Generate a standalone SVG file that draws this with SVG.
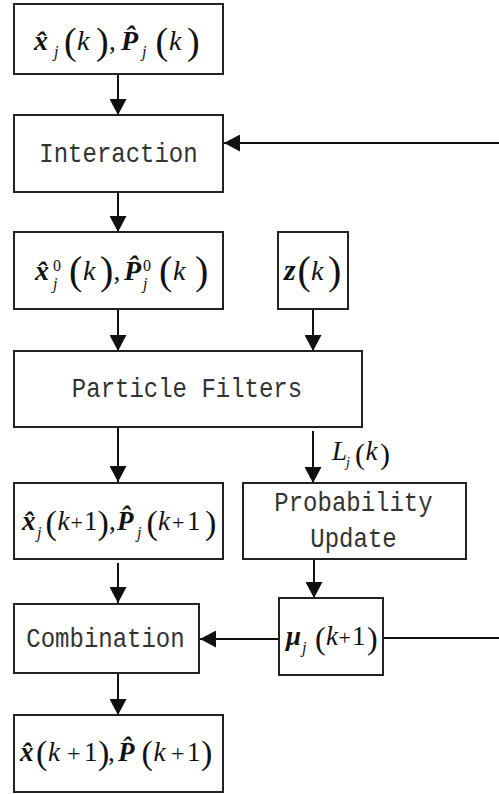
<svg xmlns="http://www.w3.org/2000/svg" width="499" height="794" viewBox="0 0 499 794">
<style>
.box{fill:#fff;stroke:#222;stroke-width:2}
.lbl{font-family:"Liberation Mono",monospace;font-size:24px;fill:#333;text-anchor:middle}
.m{font-family:"Liberation Serif",serif;font-size:27px;fill:#111}
.b{font-weight:bold;font-style:italic}
.i{font-style:italic}
.s{font-size:16px;font-style:italic}
.c{stroke:#111;stroke-width:2;fill:none}
</style>
<defs>
<marker id="ah" markerUnits="userSpaceOnUse" markerWidth="16" markerHeight="17" refX="16" refY="8.5" orient="auto">
<path d="M0,0 L16,8.5 L0,17 z" fill="#111"/>
</marker>
</defs>
<rect width="499" height="794" fill="#fff"/>

<g id="connectors">
<line class="c" x1="118" y1="74" x2="118" y2="115" marker-end="url(#ah)"/>
<line class="c" x1="499" y1="143" x2="224" y2="143" marker-end="url(#ah)"/>
<line class="c" x1="118" y1="192" x2="118" y2="232" marker-end="url(#ah)"/>
<line class="c" x1="118" y1="309" x2="118" y2="351" marker-end="url(#ah)"/>
<line class="c" x1="313" y1="309" x2="313" y2="351" marker-end="url(#ah)"/>
<line class="c" x1="118" y1="427" x2="118" y2="482" marker-end="url(#ah)"/>
<line class="c" x1="313" y1="431" x2="313" y2="483" marker-end="url(#ah)"/>
<line class="c" x1="118" y1="563" x2="118" y2="603" marker-end="url(#ah)"/>
<line class="c" x1="314" y1="559" x2="314" y2="598" marker-end="url(#ah)"/>
<line class="c" x1="279" y1="639" x2="200" y2="639" marker-end="url(#ah)"/>
<line class="c" x1="383" y1="638" x2="499" y2="638"/>
<line class="c" x1="118" y1="673" x2="118" y2="715" marker-end="url(#ah)"/>
<text class="m" font-size="23"><tspan class="i" x="332" y="460">L</tspan><tspan class="i" x="346" y="467" font-size="14">j</tspan><tspan x="355" y="464" font-size="30">(</tspan><tspan class="i" x="365.5" y="460">k</tspan><tspan x="380" y="464" font-size="30">)</tspan></text>
</g>

<g id="n1">
<rect class="box" x="14" y="4" width="209" height="70"/>
<text class="m"><tspan class="b" x="34" y="50" font-size="28">x̂</tspan><tspan class="s" x="54" y="57">j</tspan><tspan x="64" y="54" font-size="38">(</tspan><tspan class="i" x="77" y="50" font-size="28">k</tspan><tspan x="96" y="54" font-size="38">)</tspan><tspan x="109" y="50">,</tspan><tspan class="b" x="121" y="50" font-size="28">P̂</tspan><tspan class="s" x="142" y="57">j</tspan><tspan x="155.5" y="54" font-size="38">(</tspan><tspan class="i" x="169" y="50" font-size="28">k</tspan><tspan x="187" y="54" font-size="38">)</tspan></text>
</g>

<g id="n2">
<rect class="box" x="14" y="115" width="209" height="77"/>
<text class="lbl" transform="translate(118.5,162) scale(1,1.18)">Interaction</text>
</g>

<g id="n3">
<rect class="box" x="14" y="232" width="209" height="77"/>
<text class="m"><tspan class="b" x="35" y="280" font-size="28">x̂</tspan><tspan x="53" y="271" font-size="16">0</tspan><tspan class="s" x="53" y="289">j</tspan><tspan x="69" y="284" font-size="40">(</tspan><tspan class="i" x="83" y="280" font-size="28">k</tspan><tspan x="100" y="284" font-size="40">)</tspan><tspan x="113.5" y="280">,</tspan><tspan class="b" x="124" y="280" font-size="28">P̂</tspan><tspan x="143" y="271" font-size="16">0</tspan><tspan class="s" x="143" y="289">j</tspan><tspan x="159" y="284" font-size="40">(</tspan><tspan class="i" x="173" y="280" font-size="28">k</tspan><tspan x="195" y="284" font-size="40">)</tspan></text>
</g>

<g id="n4">
<rect class="box" x="278" y="232" width="70" height="77"/>
<text class="m"><tspan class="b" x="284" y="280" font-size="30">z</tspan><tspan x="297.5" y="284" font-size="40">(</tspan><tspan class="i" x="311" y="280" font-size="28">k</tspan><tspan x="328" y="284" font-size="40">)</tspan></text>
</g>

<g id="n5">
<rect class="box" x="14" y="351" width="348" height="76"/>
<text class="lbl" transform="translate(187,397) scale(1,1.18)">Particle Filters</text>
</g>

<g id="n6">
<rect class="box" x="14" y="483" width="209" height="76"/>
<text class="m" font-size="27"><tspan class="b" x="22" y="530">x̂</tspan><tspan class="s" x="37" y="538" font-size="15">j</tspan><tspan x="45.5" y="534" font-size="34">(</tspan><tspan class="i" x="57.5" y="530">k</tspan><tspan x="70.5" y="530" font-size="22">+</tspan><tspan x="84" y="530">1</tspan><tspan x="97.5" y="534" font-size="34">)</tspan><tspan x="109" y="530">,</tspan><tspan class="b" x="117" y="530">P̂</tspan><tspan class="s" x="137" y="538" font-size="15">j</tspan><tspan x="146.5" y="534" font-size="34">(</tspan><tspan class="i" x="158" y="530">k</tspan><tspan x="172" y="530" font-size="22">+</tspan><tspan x="187" y="530">1</tspan><tspan x="205" y="534" font-size="34">)</tspan></text>
</g>

<g id="n7">
<rect class="box" x="243" y="483" width="223" height="76"/>
<text class="lbl" transform="translate(353.5,511) scale(1,1.18)">Probability</text>
<text class="lbl" transform="translate(353.5,547) scale(1,1.18)">Update</text>
</g>

<g id="n8">
<rect class="box" x="14" y="604" width="185" height="69"/>
<text class="lbl" transform="translate(105.5,647) scale(1,1.18)">Combination</text>
</g>

<g id="n9">
<rect class="box" x="279" y="598" width="104" height="77"/>
<text class="m" font-size="27"><tspan class="b" x="286" y="645">μ</tspan><tspan class="s" x="302" y="653" font-size="15">j</tspan><tspan x="315" y="649" font-size="32">(</tspan><tspan class="i" x="326" y="645">k</tspan><tspan x="338.5" y="645" font-size="22">+</tspan><tspan x="352" y="645">1</tspan><tspan x="367" y="649" font-size="32">)</tspan></text>
</g>

<g id="n10">
<rect class="box" x="14" y="715" width="209" height="77"/>
<text class="m" font-size="28"><tspan class="b" x="20" y="761">x̂</tspan><tspan x="36" y="764" font-size="34">(</tspan><tspan class="i" x="48" y="761">k</tspan><tspan x="67" y="761" font-size="24">+</tspan><tspan x="84" y="761">1</tspan><tspan x="98" y="764" font-size="34">)</tspan><tspan x="108" y="761">,</tspan><tspan class="b" x="118" y="761">P̂</tspan><tspan x="141.5" y="764" font-size="34">(</tspan><tspan class="i" x="153.5" y="761">k</tspan><tspan x="171" y="761" font-size="24">+</tspan><tspan x="187" y="761">1</tspan><tspan x="201" y="764" font-size="34">)</tspan></text>
</g>
</svg>
